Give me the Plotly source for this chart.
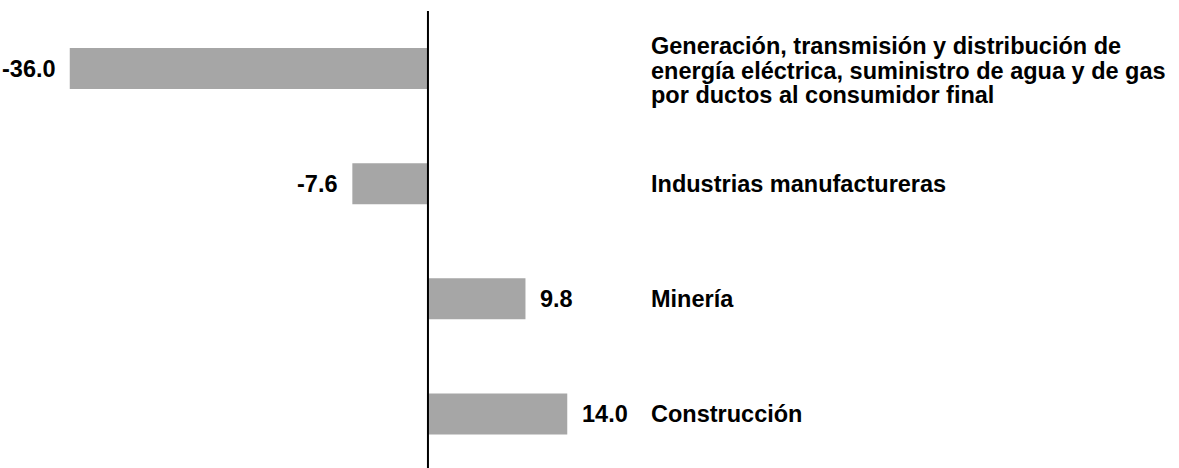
import plotly.graph_objects as go

categories = [
    "Generación, transmisión y distribución de<br>energía eléctrica, suministro de agua y de gas<br>por ductos al consumidor final",
    "Industrias manufactureras",
    "Minería",
    "Construcción",
]
values = [-36.0, -7.6, 9.8, 14.0]
value_labels = ["-36.0", "-7.6", "9.8", "14.0"]

FONT = dict(family="Liberation Sans, Arial, sans-serif", size=23.5, color="#000000")
positions = list(range(len(categories)))

fig = go.Figure(
    go.Bar(
        x=values,
        y=positions,
        orientation="h",
        width=0.356,
        marker=dict(color="#a6a6a6", line=dict(width=0)),
        hoverinfo="skip",
    )
)

annotations = []
for pos, v, lab in zip(positions, values, value_labels):
    annotations.append(dict(
        x=v, y=pos, xref="x", yref="y", text="<b>%s</b>" % lab, showarrow=False,
        xanchor="right" if v < 0 else "left", yanchor="middle",
        xshift=-12 if v < 0 else 13, font=FONT,
    ))

for pos, cat in zip(positions, categories):
    lines = cat.split("<br>")
    n = len(lines)
    for i, ln in enumerate(lines):
        annotations.append(dict(
            x=649 / 1179, y=pos, xref="paper", yref="y", text="<b>%s</b>" % ln,
            showarrow=False, xanchor="left", yanchor="middle",
            yshift=-(i - (n - 1) / 2) * 24.5 - (2 if n > 1 else 0), font=FONT,
        ))

fig.update_layout(
    width=1179, height=468,
    margin=dict(l=0, r=0, t=0, b=0),
    paper_bgcolor="white", plot_bgcolor="white",
    showlegend=False,
    xaxis=dict(range=[-43.01, 75.48], visible=False, fixedrange=True),
    yaxis=dict(range=[3.469, -0.595], visible=False, fixedrange=True),
    annotations=annotations,
    shapes=[dict(type="line", xref="x", yref="paper", x0=0, x1=0,
                 y0=0, y1=(468 - 11) / 468, line=dict(color="black", width=2))],
)

fig.write_html(
    "out.html",
    config={"displayModeBar": False},
    post_script="document.body.style.margin='0';document.body.style.overflow='hidden';",
)
